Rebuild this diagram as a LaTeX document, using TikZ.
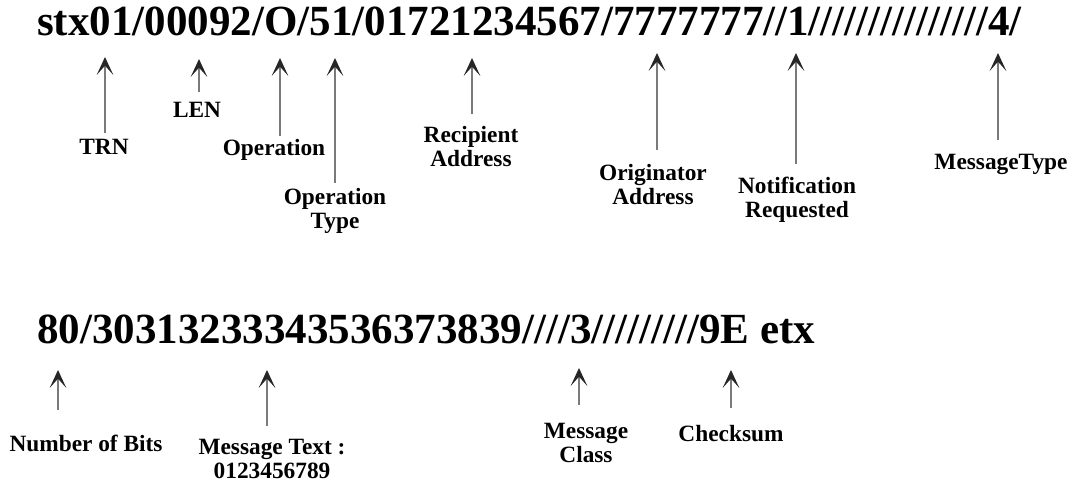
\documentclass[tikz,border=0pt]{standalone}
\usepackage{fontspec}
\setmainfont{Liberation Serif}
\usetikzlibrary{arrows.meta}
\tikzset{
  frame/.style={font=\fontsize{32.25}{36}\selectfont\bfseries, inner sep=0pt, anchor=base west},
  lbl/.style={font=\fontsize{17.5}{18}\selectfont\bfseries, inner sep=0pt, align=center, text=black},
  ptr/.style={draw=black!52, line width=1.05pt,
    -{Stealth[length=13.5pt, width=12.5pt, inset=7pt, color=black!85]}},
}
\begin{document}
\begin{tikzpicture}[x=0.75pt, y=-0.75pt]
\useasboundingbox (0,0) rectangle (1076,485);

% the two message frames
\node[frame] (top) at (37,36) {stx01/00092/O/51/01721234567/7777777//1///////////////4/};
\node[frame] (bot) at (37,343) {80/30313233343536373839////3/////////9E etx};

% field labels, first frame
\node[lbl] (trnL)  at (104,147) {TRN};
\node[lbl] (lenL)  at (197,110) {LEN};
\node[lbl] (opL)   at (274,150) {Operation};
\node[lbl] (optL)  at (335,211) {Operation\\Type};
\node[lbl] (recL)  at (471,147) {Recipient\\Address};
\node[lbl] (orgL)  at (653,185) {Originator\\Address};
\node[lbl] (notL)  at (797,200) {Notification\\Requested};
\node[lbl] (mtL)   at (1001,164) {MessageType};

% field labels, second frame
\node[lbl] (nbL)   at (86,443) {Number of Bits};
\node[lbl] (txtL)  at (272,459) {Message Text :\\0123456789};
\node[lbl] (mcL)   at (586,443) {Message\\Class};
\node[lbl] (csL)   at (731,434) {Checksum};

% arrow tips and tails
\coordinate (trnT) at (105,57);  \coordinate (trnB) at (105,133);
\coordinate (lenT) at (199,59);  \coordinate (lenB) at (199,92);
\coordinate (opT)  at (280,58);  \coordinate (opB)  at (280,136);
\coordinate (optT) at (335,58);  \coordinate (optB) at (335,183);
\coordinate (recT) at (472,58);  \coordinate (recB) at (472,114);
\coordinate (orgT) at (657,53);  \coordinate (orgB) at (657,150);
\coordinate (notT) at (796,53);  \coordinate (notB) at (796,164);
\coordinate (mtT)  at (998,53);  \coordinate (mtB)  at (998,140);

\coordinate (nbT)  at (58,370);  \coordinate (nbB)  at (58,410);
\coordinate (txtT) at (267,370); \coordinate (txtB) at (267,426);
\coordinate (mcT)  at (579,368); \coordinate (mcB)  at (579,405);
\coordinate (csT)  at (731,370); \coordinate (csB)  at (731,408);

\foreach \f in {trn,len,op,opt,rec,org,not,mt,nb,txt,mc,cs}
  \draw[ptr] (\f B) -- (\f T);
\end{tikzpicture}
\end{document}
